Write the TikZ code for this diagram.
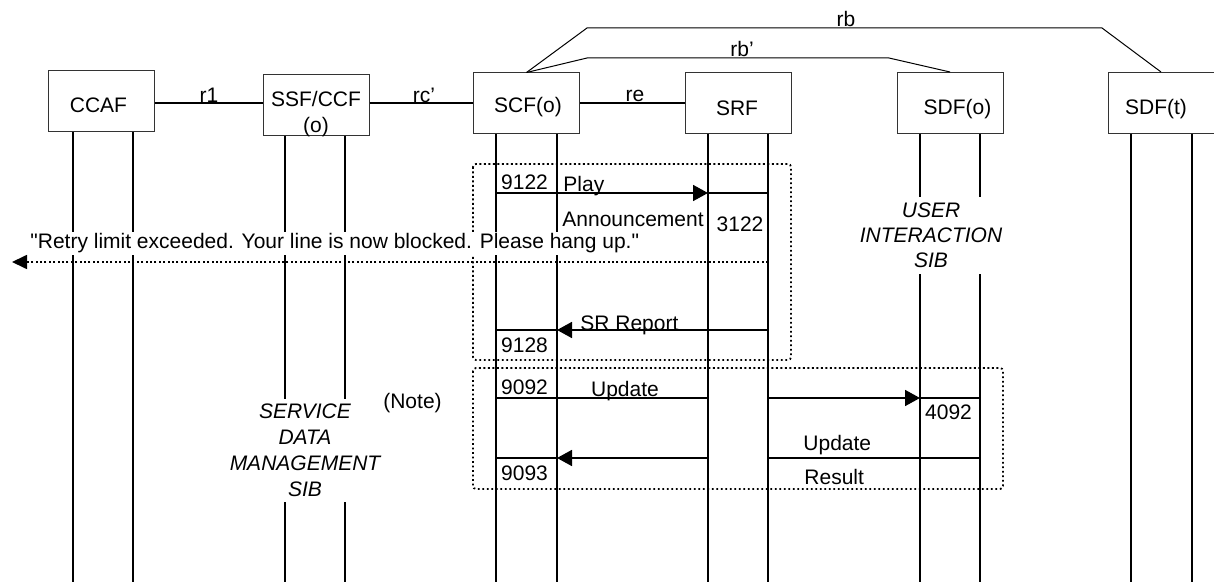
\documentclass[tikz,border=0pt]{standalone}
\usepackage{fontspec}
\setmainfont{Liberation Sans}
\usetikzlibrary{arrows.meta}

\begin{document}
\begin{tikzpicture}[x=0.5pt,y=-0.5pt,
  every node/.style={font=\fontsize{10.5}{12.5}\selectfont,inner sep=0pt},
  fn_box/.style={draw=black!80,line width=0.5pt,minimum width=53pt,minimum height=30.5pt},
  life_line/.style={line width=1pt},
  ref_line/.style={line width=0.75pt},
  msg/.style={line width=0.85pt},
  msg_arrow/.style={msg,-{Triangle[length=7.5pt,width=8pt]}},
  sib_box/.style={draw,line width=0.9pt,dash pattern=on 0.9pt off 1.35pt,rounded corners=1.5pt},
  sib_text/.style={fill=white,align=center,font=\fontsize{10.5}{12.5}\selectfont\itshape}]

    \useasboundingbox (0,0) rectangle (1214,582);
    \coordinate (bottom) at (0,582);

    \node[fn_box] (ccaf) at (101,101.5) {};
    \node[fn_box] (ssf) at (316,105.5) {};
    \node[fn_box] (scf) at (526.5,103.5) {};
    \node[fn_box] (srf) at (738,103.5) {};
    \node[fn_box] (sdfo) at (950,103) {};
    \node[fn_box] (sdft) at (1161,103) {};

    \node[anchor=base] (ccaf_t) at (98.5,113) {CCAF};
    \node[anchor=base,align=center] (ssf_t) at (316,133) {SSF/CCF\\[0.5pt](o)};
    \node[anchor=base] (scf_t) at (528,113) {SCF(o)};
    \node[anchor=base] (srf_t) at (737,116) {SRF};
    \node[anchor=base] (sdfo_t) at (957.5,115) {SDF(o)};
    \node[anchor=base] (sdft_t) at (1156,115) {SDF(t)};

    % reference points between the functional entities
    \coordinate (ref_y) at (0,103);
    \draw[ref_line] (ccaf.east |- ref_y) -- (ssf.west |- ref_y);
    \draw[ref_line] (ssf.east |- ref_y) -- (scf.west |- ref_y);
    \draw[ref_line] (scf.east |- ref_y) -- (srf.west |- ref_y);
    \node[anchor=base] (r1) at (209,102.5) {r1};
    \node[anchor=base] (rc) at (424,102.5) {rc'};
    \node[anchor=base] (re) at (635,102) {re};

    \draw[line width=0.5pt] (scf.north) -- (587,28) -- (1102,28) -- (sdft.north);
    \draw[line width=0.5pt] (scf.north) -- (587,58) -- (889,58) -- (sdfo.north);
    \node[anchor=base] (rb) at (846,27) {rb};
    \node[anchor=base] (rbp) at (742,57) {rb'};

    \foreach \n/\a/\b in {ccaf/73/133, ssf/285/345, scf/496/557, srf/708/768, sdfo/920/980, sdft/1131/1192} {
      \coordinate (\n_l) at (\n.south -| \a,0);
      \coordinate (\n_r) at (\n.south -| \b,0);
      \draw[life_line] (\n_l) -- (\n_l |- bottom);
      \draw[life_line] (\n_r) -- (\n_r |- bottom);
    }

    \draw[sib_box] (473,164) rectangle (791,360);
    \draw[sib_box] (473,368) rectangle (1003,489);

    \node[sib_text,inner sep=3pt] (ui_sib) at (931,235.5) {USER\\INTERACTION\\SIB};
    \node[sib_text,inner sep=2.5pt] (sdm_sib) at (305,450.5) {SERVICE\\[0.5pt]DATA\\[0.5pt]MANAGEMENT\\[0.5pt]SIB};
    \node (note) at (412.5,403) {(Note)};

    % play announcement
    \coordinate (y_play) at (0,193);
    \draw[msg_arrow] (scf_l |- y_play) -- (srf_l |- y_play);
    \draw[msg] (srf_l |- y_play) -- (srf_r |- y_play);
    \node[anchor=base] (n9122) at (524.5,190) {9122};
    \node[anchor=base west] (play) at (563,192) {Play};
    \node[anchor=base west] (annc) at (562,227) {Announcement};
    \node[anchor=base] (n3122) at (740,232) {3122};

    \node[fill=white,anchor=base west,inner xsep=0pt,inner ysep=1pt] (retry) at (30,249)
      {\addfontfeatures{Ligatures=TeXOff}"Retry limit exceeded. Your line is now blocked. Please hang up."};
    \coordinate (y_retry) at (0,262);
    \coordinate (user_end) at (12,262);
    \draw[msg,dash pattern=on 1pt off 1.2pt,-{Triangle[length=7.5pt,width=7pt]}] (srf_r |- y_retry) -- (user_end);

    % SR report
    \coordinate (y_srr) at (0,330);
    \draw[msg_arrow] (srf_r |- y_srr) -- (scf_r |- y_srr);
    \draw[msg] (scf_r |- y_srr) -- (scf_l |- y_srr);
    \node[anchor=base west] (srr) at (580,331) {SR Report};
    \node[anchor=base] (n9128) at (524.5,352) {9128};

    % update
    \coordinate (y_upd) at (0,398);
    \draw[msg] (scf_l |- y_upd) -- (srf_l |- y_upd);
    \draw[msg_arrow] (srf_r |- y_upd) -- (sdfo_l |- y_upd);
    \draw[msg] (sdfo_l |- y_upd) -- (sdfo_r |- y_upd);
    \node[anchor=base] (n9092) at (524.5,394) {9092};
    \node[anchor=base] (upd) at (625,396) {Update};
    \node[anchor=base] (n4092) at (948.5,419) {4092};

    % update result
    \coordinate (y_res) at (0,458);
    \draw[msg] (sdfo_r |- y_res) -- (srf_r |- y_res);
    \draw[msg_arrow] (srf_l |- y_res) -- (scf_r |- y_res);
    \draw[msg] (scf_r |- y_res) -- (scf_l |- y_res);
    \node[anchor=base west] (updr_a) at (803,450) {Update};
    \node[anchor=base west] (updr_b) at (804,484) {Result};
    \node[anchor=base] (n9093) at (524.5,480) {9093};

\end{tikzpicture}
\end{document}
